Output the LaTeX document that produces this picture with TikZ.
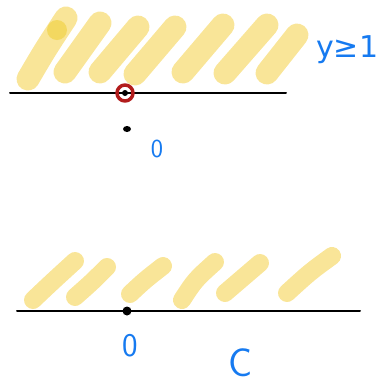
\documentclass[tikz,border=0pt]{standalone}
\usepackage{fontspec}
\newfontfamily\symbolfont{DejaVu Sans}
\definecolor{ink}{RGB}{0,0,0}
\definecolor{shade}{RGB}{249,229,152}
\definecolor{shadedot}{RGB}{243,216,96}
\definecolor{mark}{RGB}{178,28,28}
\definecolor{pen}{RGB}{22,122,240}

\begin{document}
\begin{tikzpicture}[
  x=1pt,
  y=-1pt,
  line cap=round,
  line join=round,
  stroke/.style={
    draw=shade,
    line width=23pt,
    line cap=round
  },
  lowstroke/.style={
    draw=shade,
    line width=18pt,
    line cap=round
  },
  axis/.style={
    draw=ink,
    line width=2pt
  },
  handtext/.style={
    text=pen,
    font=\sffamily\fontsize{33}{33}\selectfont,
    inner sep=0pt
  }
]
\useasboundingbox (0,0) rectangle (377,384);

% ---------------------------------------------------------------------------
% Upper sketch: shaded half plane above the line, open point on it.
% ---------------------------------------------------------------------------
\draw[stroke] (28,79) .. controls (45,50) .. (66,18);
\draw[stroke] (65,72) -- (100,23);
\draw[stroke] (100,72) -- (138,27);
\draw[stroke] (135,74) -- (175,27);
\draw[stroke] (183,72) -- (223,25);
\draw[stroke] (225,73) -- (267,25);
\draw[stroke] (267,73) -- (297,35);
\fill[shadedot] (57,30) circle (10);

\draw[axis] (10,93) -- (286,93);
\draw[draw=mark,line width=3.5pt] (125,93) circle (8);
\fill[ink] (125,93) circle (3);

\fill[ink] (127,129) ellipse (4 and 3);
\node[handtext,font=\sffamily\fontsize{26}{26}\selectfont] (origin1) at (157,149) {0};
\node[handtext,anchor=west,font=\symbolfont\fontsize{30}{30}\selectfont]
  (bound) at (316,50) {y≥1};

% ---------------------------------------------------------------------------
% Lower sketch: shaded strokes above the line, closed point at the origin.
% ---------------------------------------------------------------------------
\draw[lowstroke] (33,300) .. controls (52,282) .. (75,261);
\draw[lowstroke] (75,297) .. controls (92,282) .. (107,267);
\draw[lowstroke] (130,294) .. controls (145,280) .. (163,266);
\draw[lowstroke] (182,300) .. controls (195,280) .. (215,262);
\draw[lowstroke] (225,293) .. controls (242,278) .. (260,263);
\draw[lowstroke] (287,293) .. controls (310,272) .. (332,256);

\draw[axis] (17,311) -- (360,311);
\fill[ink] (127,311) circle (4.5);

\node[handtext] (origin2) at (130,346) {0};
\node[handtext,font=\sffamily\fontsize{40}{40}\selectfont] (region) at (241,363) {C};

\end{tikzpicture}
\end{document}
